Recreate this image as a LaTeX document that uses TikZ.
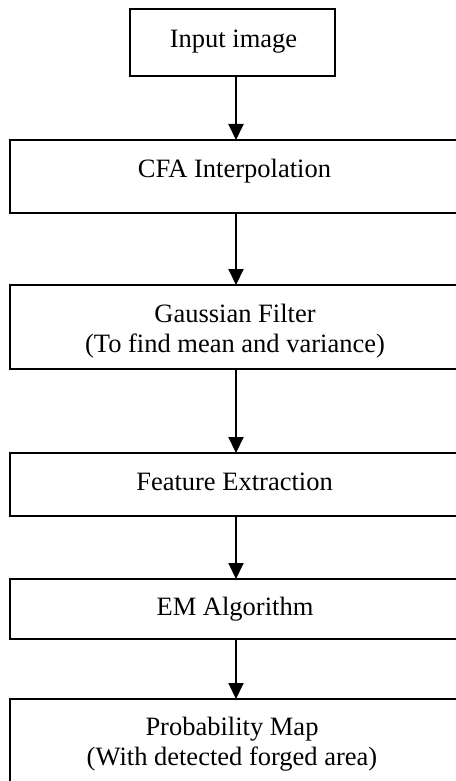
\documentclass[tikz,border=0pt]{standalone}
\usepackage{fontspec}
\setmainfont{Liberation Serif}
\usetikzlibrary{arrows.meta}
\tikzset{
  box/.style={draw=black, line width=1.8pt, rectangle, inner sep=0pt, outer sep=0pt, anchor=north west},
  txt/.style={anchor=base, inner sep=0pt, align=center, font=\fontsize{26.5}{30}\selectfont},
  arr/.style={line width=2pt, -{Triangle[width=15pt,length=16pt]}}
}
\begin{document}
\begin{tikzpicture}[x=1pt,y=1pt]
\useasboundingbox (0,0) rectangle (455,-781);
\coordinate (axis) at (236,0);
\node[box, minimum width=205pt, minimum height=67pt] (inp) at (130,-9) {};
\node[box, minimum width=451pt, minimum height=73pt] (cfa) at (10,-140) {};
\node[box, minimum width=451pt, minimum height=84pt] (gauss) at (10,-285) {};
\node[box, minimum width=451pt, minimum height=63pt] (feat) at (10,-453) {};
\node[box, minimum width=451pt, minimum height=60pt] (em) at (10,-579) {};
\node[box, minimum width=451pt, minimum height=85pt] (prob) at (10,-699) {};
\node[txt] (inpT) at (233.5,-48) {Input image};
\node[txt] (cfaT) at (234.5,-177) {CFA Interpolation};
\node[txt] (gaussT) at (235,-352) {Gaussian Filter\\(To find mean and variance)};
\node[txt] (featT) at (234.5,-490) {Feature Extraction};
\node[txt] (emT) at (235,-615) {EM Algorithm};
\node[txt] (probT) at (232,-765) {Probability Map\\(With detected forged area)};
\draw[arr] (inp.south -| axis) -- (cfa.north -| axis);
\draw[arr] (cfa.south -| axis) -- (gauss.north -| axis);
\draw[arr] (gauss.south -| axis) -- (feat.north -| axis);
\draw[arr] (feat.south -| axis) -- (em.north -| axis);
\draw[arr] (em.south -| axis) -- (prob.north -| axis);
\end{tikzpicture}
\end{document}
